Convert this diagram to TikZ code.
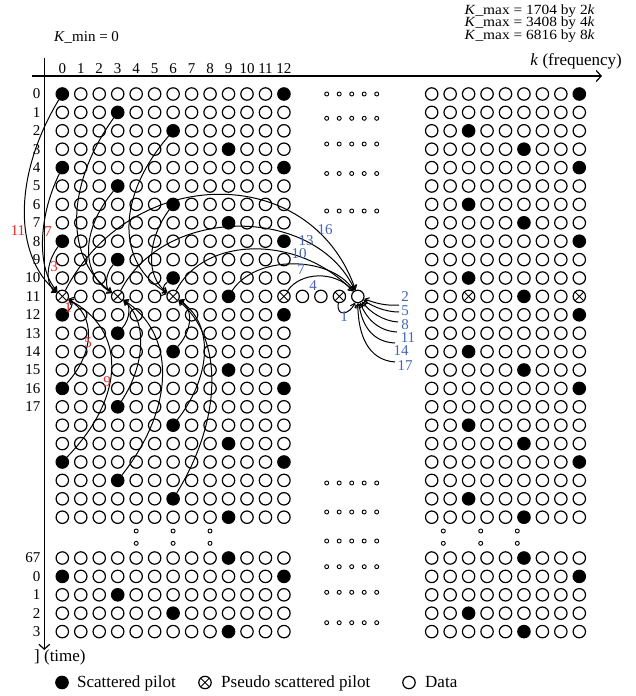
\documentclass[tikz,border=0pt]{standalone}
\usepackage{fontspec}
\setmainfont{Liberation Serif}
\newfontfamily\kfont[FakeStretch=1.1]{Liberation Serif}
\usetikzlibrary{arrows.meta,calc}
\definecolor{redlab}{RGB}{232,40,40}
\definecolor{bluelab}{RGB}{70,100,180}
\newcommand\rowdraw[3]{%
 \pgfmathtruncatemacro\myph{mod(#2,4)}%
 \foreach \k in {0,...,12}{%
   \pgfmathtruncatemacro\mypil{mod(\k-3*\myph+24,12)}%
   \pgfmathtruncatemacro\mytri{mod(\k,3)}%
   \ifnum\mypil=0 \node[pilot] (c-#1-\k) at ({62.3+18.47*\k},#3) {};%
   \else\ifnum#2=11 \ifnum\mytri=0 \node[pseudo] (c-#1-\k) at ({62.3+18.47*\k},#3) {};%
     \else \node[data] (c-#1-\k) at ({62.3+18.47*\k},#3) {};\fi
   \else \node[data] (c-#1-\k) at ({62.3+18.47*\k},#3) {};\fi\fi
 }%
 \foreach \i in {0,...,8}{%
   \pgfmathtruncatemacro\mypil{mod(\i-8-3*\myph+36,12)}%
   \pgfmathtruncatemacro\mytri{mod(\i-8+36,3)}%
   \ifnum\mypil=0 \node[pilot] (r-#1-\i) at ({431.7+18.45*\i},#3) {};%
   \else\ifnum#2=11 \ifnum\mytri=0 \node[pseudo] (r-#1-\i) at ({431.7+18.45*\i},#3) {};%
     \else \node[data] (r-#1-\i) at ({431.7+18.45*\i},#3) {};\fi
   \else \node[data] (r-#1-\i) at ({431.7+18.45*\i},#3) {};\fi\fi
 }%
}
\newcommand\acurve[4]{\draw[conn] (#1) .. controls ($(#1)+(-#3,0.4*#4)$) and ($(#2)+(-#3,-0.2*#4)$) .. (#2);}
\newcommand\bcurve[4]{\draw[conn] (#1) .. controls ($(#1)+(#3,-0.4*#4)$) and ($(#2)+(#3,0.2*#4)$) .. (#2);}
\begin{document}
\begin{tikzpicture}[x=1pt,y=-1pt,
  data/.style={circle,draw,line width=1.2pt,minimum size=12.4pt,inner sep=0pt},
  pilot/.style={data,fill=black},
  pseudo/.style={data,path picture={\draw[line width=0.9pt]
     (path picture bounding box.north west) -- (path picture bounding box.south east)
     (path picture bounding box.south west) -- (path picture bounding box.north east);}},
  small/.style={circle,draw,line width=0.9pt,minimum size=4pt,inner sep=0pt},
  conn/.style={line width=1pt,-{Straight Barb[length=4pt,width=6pt]}},
  axis/.style={line width=1.2pt,-{Straight Barb[length=5pt,width=11pt]}},
  lab/.style={font=\fontsize{15}{15}\selectfont,inner sep=0pt},
  klab/.style={font=\kfont\fontsize{14}{14}\selectfont,inner sep=0pt},
  biglab/.style={font=\fontsize{17}{17}\selectfont,inner sep=0pt},
  rlab/.style={lab,text=redlab},
  blab/.style={lab,text=bluelab}]
\useasboundingbox (0,0) rectangle (635,696);
% axes
\coordinate (hx0) at (31.7,76); \coordinate (hx1) at (602,76);
\coordinate (vy0) at (44.3,57.7); \coordinate (vy1) at (44.3,650);
\draw[axis] (hx0) -- (hx1);
\draw[axis] (vy0) -- (vy1);
% texts
\node[lab] (kmin) at (86.5,37.3) {\textit{K}\_min = 0};
\node[klab,anchor=base east] (kmax1) at (595,14) {\textit{K}\_max = 1704 by 2\textit{k}};
\node[klab,anchor=base east] (kmax2) at (595,26.8) {\textit{K}\_max = 3408 by 4\textit{k}};
\node[klab,anchor=base east] (kmax3) at (595,39.6) {\textit{K}\_max = 6816 by 8\textit{k}};
\node[biglab,anchor=base east] (kf) at (622,65) {\textit{k} (frequency)};
\node[biglab,anchor=base west] (tl) at (34,661) {] (time)};
% column and row labels
\foreach \k in {0,...,12} \node[lab] (cl\k) at ({62.3+18.47*\k},68.3) {\k};
\foreach \r in {0,...,17} \node[lab,anchor=east] (rl\r) at (40.5,{94+18.4*\r}) {\r};
\foreach \t [count=\j from 0] in {67,0,1,2,3} \node[lab,anchor=east] (bl\j) at (40.5,{558+18.4*\j}) {\t};
% grid
\foreach \r in {0,...,23} {\pgfmathsetmacro\yy{94+18.4*\r}\rowdraw{\r}{\r}{\yy}}
\foreach \j in {0,...,4} {\pgfmathsetmacro\yy{558+18.4*\j}\pgfmathtruncatemacro\s{67+\j}\rowdraw{b\j}{\s}{\yy}}
% extension of row 11
\node[data] (e13) at (302.4,296.4) {};
\node[data] (e14) at (320.9,296.4) {};
\node[pseudo] (e15) at (339.4,296.4) {};
\node[data] (T) at (357.8,296.4) {};
% small dots
\foreach \yy [count=\n] in {94,118.3,144,173.5,211,483,512,541,566.7,592.3,622.7}
  \foreach \j in {0,...,4} \node[small] (m\n-\j) at ({326.7+12.5*\j},\yy) {};
\foreach \xx [count=\n] in {136.2,173.1,210}
  \foreach \yy [count=\m] in {531,543.3} \node[small] (vl\n-\m) at (\xx,\yy) {};
\foreach \xx [count=\n] in {443.3,480.7,517.3}
  \foreach \yy [count=\m] in {531,543.3} \node[small] (vr\n-\m) at (\xx,\yy) {};
% time interpolation curves
\acurve{c-0-0}{c-11-0}{49}{202.4}
\acurve{c-4-0}{c-11-0}{25}{128.8}
\acurve{c-8-0}{c-11-0}{17}{55.2}
\bcurve{c-12-0}{c-11-0}{11}{18.4}
\bcurve{c-16-0}{c-11-0}{33}{92}
\bcurve{c-20-0}{c-11-0}{64}{165.6}
\acurve{c-1-3}{c-11-3}{53}{184}
\acurve{c-5-3}{c-11-3}{37}{110.4}
\acurve{c-9-3}{c-11-3}{13}{36.8}
\bcurve{c-13-3}{c-11-3}{13}{36.8}
\bcurve{c-17-3}{c-11-3}{29}{110.4}
\bcurve{c-21-3}{c-11-3}{58}{184}
\acurve{c-2-6}{c-11-6}{57}{165.6}
\acurve{c-6-6}{c-11-6}{27}{92}
\acurve{c-10-6}{c-11-6}{11}{18.4}
\bcurve{c-14-6}{c-11-6}{20}{55.2}
\bcurve{c-18-6}{c-11-6}{40}{128.8}
\bcurve{c-22-6}{c-11-6}{50}{202.4}
% red labels
\node[rlab] (ra11) at (18,231) {11};
\node[rlab] (ra7) at (48,232) {7};
\node[rlab] (ra3) at (54,267) {3};
\node[rlab] (rb1) at (68,308) {1};
\node[rlab] (rb5) at (88,343) {5};
\node[rlab] (rb9) at (107,382) {9};
% frequency interpolation curves
\draw[conn] (c-11-0) .. controls (130,165) and (310,160) .. (T);
\draw[conn] (c-11-3) .. controls (165,205) and (315,205) .. (T);
\draw[conn] (c-11-6) .. controls (205,235) and (300,235) .. (T);
\draw[conn] (c-11-9) .. controls (255,255) and (330,255) .. (T);
\draw[conn] (c-11-12) .. controls (300,272) and (335,270) .. (T);
\draw[conn] (e15) .. controls (336,318) and (350,314) .. (T);
\coordinate (s2) at (399,305);
\coordinate (s5) at (399,312);
\coordinate (s8) at (398,322);
\coordinate (s11) at (397,332);
\coordinate (s14) at (395,343);
\coordinate (s17) at (395,362);
\draw[conn] (s2) .. controls (385,306) and (375,303) .. (T);
\draw[conn] (s5) .. controls (385,312) and (372,306) .. (T);
\draw[conn] (s8) .. controls (383,321) and (370,312) .. (T);
\draw[conn] (s11) .. controls (378,331) and (366,318) .. (T);
\draw[conn] (s14) .. controls (372,342) and (362,325) .. (T);
\draw[conn] (s17) .. controls (368,360) and (358,335) .. (T);
% blue labels
\node[blab] (b16) at (325,230) {16};
\node[blab] (b13) at (306,241) {13};
\node[blab] (b10) at (299,254) {10};
\node[blab] (b7) at (301,270) {7};
\node[blab] (b4) at (313,286) {4};
\node[blab] (b1) at (344,317) {1};
\node[blab] (b2) at (405,297) {2};
\node[blab] (b5) at (405,311) {5};
\node[blab] (b8) at (405,324.5) {8};
\node[blab] (b11) at (408,338) {11};
\node[blab] (b14) at (401,351) {14};
\node[blab] (b17) at (405,366) {17};
% legend
\node[pilot] (lg1) at (62,682.5) {};
\node[biglab,anchor=base west] (lt1) at (77,687) {Scattered pilot};
\node[pseudo] (lg2) at (205,682.5) {};
\node[biglab,anchor=base west] (lt2) at (221,687) {Pseudo scattered pilot};
\node[data] (lg3) at (409,682.5) {};
\node[biglab,anchor=base west] (lt3) at (425,687) {Data};
\end{tikzpicture}
\end{document}
